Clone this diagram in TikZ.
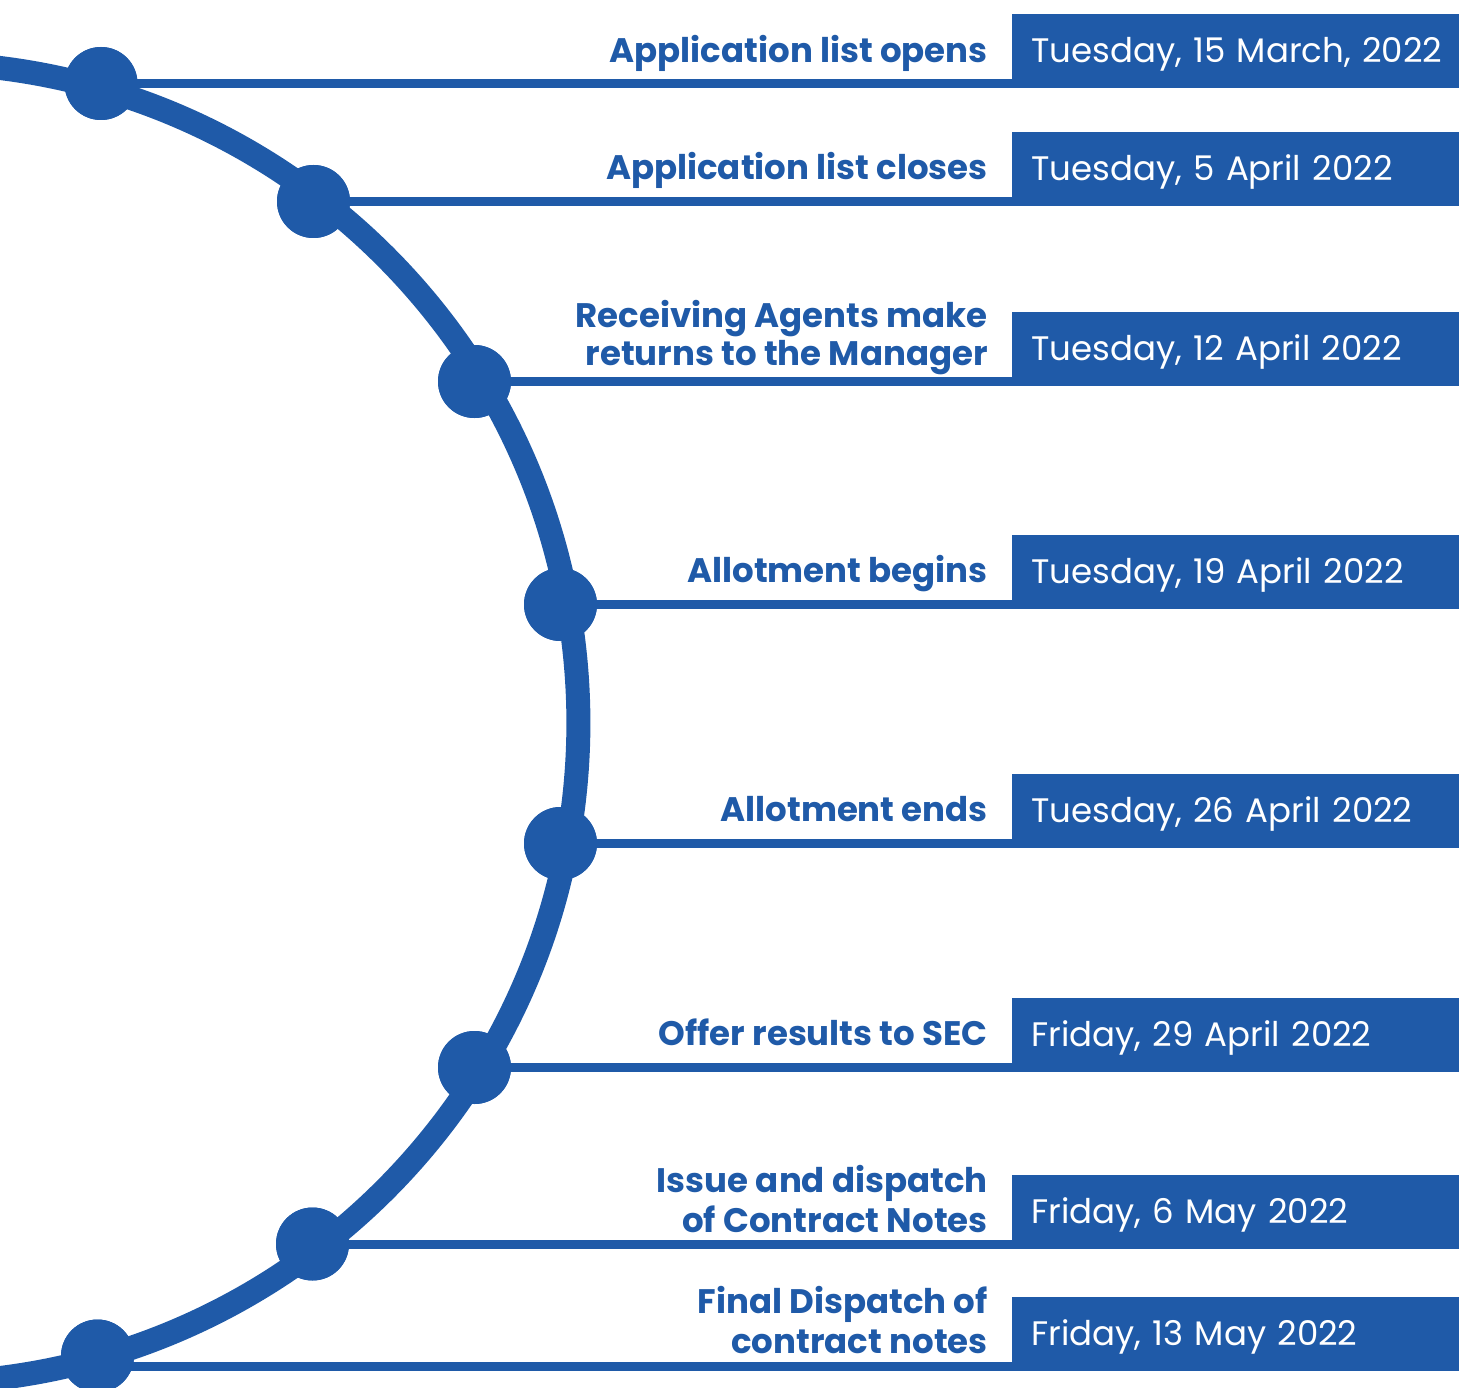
\documentclass[tikz,border=0pt]{standalone}
\usepackage{fontspec}
\setmainfont{Poppins}
\definecolor{tblue}{RGB}{31,90,168}
\begin{document}
\begin{tikzpicture}[x=1pt,y=-1pt,
 arcline/.style={draw=tblue,line width=24pt},
 hline/.style={draw=tblue,line width=9pt},
 dot/.style={circle,fill=tblue,minimum size=73pt,inner sep=0pt},
 datebox/.style={fill=tblue,text=white,anchor=south west,minimum width=447pt,minimum height=74pt,text width=430pt,align=left,inner xsep=19pt,inner ysep=0pt,text height=23pt,text depth=0pt,font=\fontsize{34}{39}\selectfont},
 lbl/.style={text=tblue,anchor=base east,align=right,inner sep=0pt,font=\bfseries\fontsize{34}{39}\selectfont}]
\useasboundingbox (0,0) rectangle (1459,1388);
\begin{scope}
\clip (0,0) rectangle (1459,1388);
\draw[arcline] (-81.6,723) circle[radius=660pt];
\end{scope}
% dots
\node[dot] (d1) at (101,83.5) {};
\node[dot] (d2) at (313.5,201.5) {};
\node[dot] (d3) at (474.5,381.5) {};
\node[dot] (d4) at (560.5,604.5) {};
\node[dot] (d5) at (560.5,843.5) {};
\node[dot] (d6) at (474.5,1067.5) {};
\node[dot] (d7) at (312.5,1244) {};
\node[dot] (d8) at (97.5,1356) {};
% date boxes
\node[datebox] (b1) at (1012,88) {Tuesday, 15 March, 2022};
\node[datebox] (b2) at (1012,206) {Tuesday, 5 April 2022};
\node[datebox] (b3) at (1012,386) {Tuesday, 12 April 2022};
\node[datebox] (b4) at (1012,609) {Tuesday, 19 April 2022};
\node[datebox] (b5) at (1012,848) {Tuesday, 26 April 2022};
\node[datebox] (b6) at (1012,1072) {Friday, 29 April 2022};
\node[datebox] (b7) at (1012,1249) {Friday, 6 May 2022};
\node[datebox] (b8) at (1012,1371) {Friday, 13 May 2022};
% connector lines
\foreach \k in {1,...,8}{
  \coordinate (e\k) at ([yshift=4.5pt]b\k.south west);
}
\foreach \k in {1,...,8}{
  \draw[hline] (d\k.center |- e\k) -- (e\k);
}
\foreach \k in {1,...,8}{
  \node[dot] at (d\k) {};
}
% labels
\node[lbl] (l1) at (988,63) {Application list opens};
\node[lbl] (l2) at (988,180) {Application list closes};
\node[lbl] (l3) at (988,365) {Receiving Agents make\\[-1pt]returns to the Manager};
\node[lbl] (l4) at (988,582) {Allotment begins};
\node[lbl] (l5) at (988,821) {Allotment ends};
\node[lbl] (l6) at (988,1045) {Offer results to SEC};
\node[lbl] (l7) at (988,1232) {Issue and dispatch\\[1pt]of Contract Notes};
\node[lbl] (l8) at (988,1353) {Final Dispatch of\\[1pt]contract notes};
\end{tikzpicture}
\end{document}
